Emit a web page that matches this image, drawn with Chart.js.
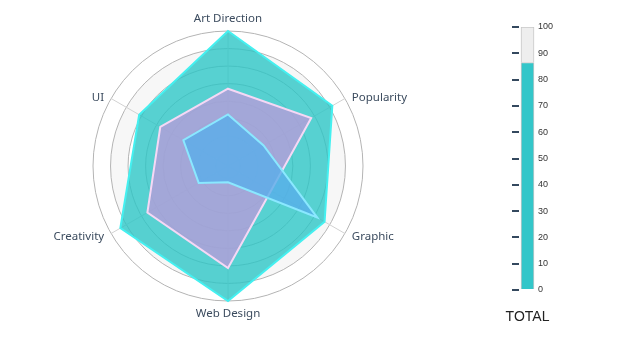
<!DOCTYPE html>
<html lang="en">
<head>
    <meta charset="UTF-8">
    <title>Skills Radar</title>
    <script src="https://cdn.jsdelivr.net/npm/chart.js"></script>
    <style>
        body { margin: 0; background: #fff; }
        .radar-box { position: absolute; left: 0; top: 0; width: 457px; height: 343px; }
        .gauge-box { position: absolute; left: 470px; top: 0; width: 140px; height: 343px; }
    </style>
</head>
<body>
    <div class="radar-box"><canvas id="radarChart"></canvas></div>
    <div class="gauge-box"><canvas id="gaugeChart"></canvas></div>

    <script>
        const skills = ['Art Direction', 'Popularity', 'Graphic', 'Web Design', 'Creativity', 'UI'];
        const outerSeries = [100, 91.7, 86.6, 100, 93.9, 81.5];
        const middleSeries = [67.1, 77.8, 51.3, 81.2, 76.1, 67.6];
        const innerSeries = [52.4, 46.4, 81.8, 32.3, 42.3, 52.4];
        const scaleMin = 23, scaleMax = 100, scaleStep = 10;

        const gaugeTitle = 'TOTAL';
        const gaugeValue = [86.5];
        const gaugeMax = 100;

        // light alternating bands between the rings
        const bandPlugin = {
            id: 'bands',
            beforeDraw(chart) {
                const r = chart.scales.r, ctx = chart.ctx;
                const ticks = r.ticks.map(t => t.value);
                ctx.save();
                ctx.fillStyle = '#f7f7f7';
                for (let i = ticks.length - 2; i > 0; i -= 2) {
                    const ro = r.getDistanceFromCenterForValue(ticks[i]);
                    const ri = r.getDistanceFromCenterForValue(ticks[i - 1]);
                    ctx.beginPath();
                    ctx.arc(r.xCenter, r.yCenter, ro, 0, Math.PI * 2);
                    ctx.arc(r.xCenter, r.yCenter, ri, 0, Math.PI * 2, true);
                    ctx.fill();
                }
                ctx.restore();
            }
        };

        // axis names, centred on the spoke like the original
        const labelPlugin = {
            id: 'spokeLabels',
            afterDraw(chart) {
                const r = chart.scales.r, ctx = chart.ctx;
                const R = r.drawingArea;
                ctx.save();
                ctx.font = '11.5px "Noto Sans"';
                ctx.fillStyle = '#3b4b5e';
                skills.forEach((name, i) => {
                    const a = r.getIndexAngle(i) - Math.PI / 2;
                    const c = Math.cos(a), s = Math.sin(a);
                    let x, y;
                    if (Math.abs(c) < 0.01) {
                        const p = r.getPointPosition(i, R + 7);
                        x = p.x; y = p.y;
                        ctx.textAlign = 'center';
                        ctx.textBaseline = s < 0 ? 'bottom' : 'top';
                    } else {
                        x = r.getPointPosition(i, R + 8).x;
                        y = r.getPointPosition(i, R + 4).y + 1;
                        ctx.textAlign = c > 0 ? 'left' : 'right';
                        ctx.textBaseline = 'middle';
                    }
                    ctx.fillText(name, x, y);
                });
                ctx.restore();
            }
        };

        // caption under the gauge bar
        const captionPlugin = {
            id: 'caption',
            afterDraw(chart) {
                const { ctx, chartArea } = chart;
                ctx.save();
                ctx.font = '14px "Liberation Sans"';
                ctx.fillStyle = '#222';
                ctx.textAlign = 'center';
                ctx.textBaseline = 'middle';
                ctx.fillText(gaugeTitle, (chartArea.left + chartArea.right) / 2, chartArea.bottom + 27);
                ctx.restore();
            }
        };

        new Chart(document.getElementById('radarChart'), {
            type: 'radar',
            data: {
                labels: skills,
                datasets: [
                    { data: outerSeries, backgroundColor: 'rgba(45,197,197,0.8)', borderColor: '#44f0f0', borderWidth: 2, order: 3 },
                    { data: middleSeries, backgroundColor: 'rgba(182,156,218,0.8)', borderColor: '#f5d8f5', borderWidth: 2, order: 2 },
                    { data: innerSeries, backgroundColor: 'rgba(89,174,234,0.8)', borderColor: '#8ae8ff', borderWidth: 2, order: 1 }
                ]
            },
            options: {
                responsive: true,
                maintainAspectRatio: false,
                animation: false,
                layout: { padding: { top: 31, bottom: 42 } },
                elements: { point: { radius: 0 }, line: { tension: 0 } },
                plugins: { legend: { display: false }, tooltip: { enabled: false } },
                scales: {
                    r: {
                        min: scaleMin,
                        max: scaleMax,
                        ticks: { stepSize: scaleStep, display: false },
                        grid: { circular: true, color: '#b4b4b4' },
                        angleLines: { color: '#d2d2d2' },
                        pointLabels: { display: false }
                    }
                }
            },
            plugins: [bandPlugin, labelPlugin]
        });

        new Chart(document.getElementById('gaugeChart'), {
            type: 'bar',
            data: {
                labels: [''],
                datasets: [
                    { data: gaugeValue, backgroundColor: '#33c6c9', borderColor: '#c8c8c8', borderWidth: 1, barThickness: 13 },
                    { data: gaugeValue.map(v => gaugeMax - v), backgroundColor: '#eeeeee', borderColor: '#c8c8c8', borderWidth: 1, barThickness: 13 }
                ]
            },
            options: {
                responsive: true,
                maintainAspectRatio: false,
                animation: false,
                layout: { padding: { top: 27, bottom: 53 } },
                plugins: { legend: { display: false }, tooltip: { enabled: false } },
                scales: {
                    x: {
                        stacked: true,
                        grid: { display: false, drawTicks: false },
                        border: { display: false },
                        ticks: { display: false }
                    },
                    y: {
                        stacked: true, position: 'left', min: 0, max: gaugeMax,
                        ticks: { stepSize: 10, display: false },
                        grid: { drawOnChartArea: false, drawTicks: true, tickLength: 7, color: '#34495e', lineWidth: 2 },
                        border: { display: false },
                        afterFit: s => { s.width = 49; }
                    },
                    y2: {
                        position: 'right', min: 0, max: gaugeMax,
                        ticks: { stepSize: 10, padding: 2, color: '#333', font: { family: 'Liberation Sans', size: 9 } },
                        grid: { display: false, drawTicks: false },
                        border: { display: false },
                        afterFit: s => { s.width = 74; }
                    }
                }
            },
            plugins: [captionPlugin]
        });
    </script>
</body>
</html>
